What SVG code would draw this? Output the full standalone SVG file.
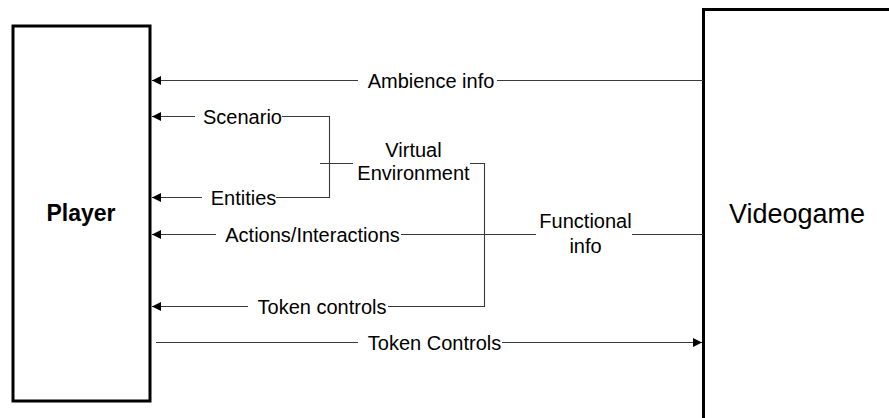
<svg xmlns="http://www.w3.org/2000/svg" width="889" height="418" viewBox="0 0 889 418">
  <style>
    .box { fill: #fff; stroke: #000; stroke-width: 3; }
    .ln { fill: none; stroke: #3a3a3a; stroke-width: 1.1; }
    .lbl { font-family: "Liberation Sans", Arial, sans-serif; font-size: 20px; fill: #000; text-anchor: middle; }
    .title { font-family: "Liberation Sans", Arial, sans-serif; fill: #000; text-anchor: middle; }
  </style>
  <defs>
    <marker id="arr" markerUnits="userSpaceOnUse" markerWidth="10" markerHeight="10" refX="9" refY="5" orient="auto-start-reverse">
      <path d="M0,0.5 L9,5 L0,9.5 Z" fill="#000"/>
    </marker>
  </defs>
  <rect width="889" height="418" fill="#fff"/>

  <g id="player">
    <rect class="box" x="13" y="26" width="137" height="375"/>
    <text class="title" x="81" y="221" font-size="23" font-weight="bold">Player</text>
  </g>

  <g id="videogame">
    <rect class="box" x="703.5" y="9.5" width="200" height="420"/>
    <text class="title" x="797" y="223" font-size="27">Videogame</text>
  </g>

  <g id="connectors">
    <!-- Ambience info -->
    <path class="ln" d="M358,80.5 L152,80.5" marker-end="url(#arr)"/>
    <path class="ln" d="M497,80.5 L703,80.5"/>
    <!-- Scenario / Entities bracket -->
    <path class="ln" d="M195,116.5 L152,116.5" marker-end="url(#arr)"/>
    <path class="ln" d="M282,116.5 L329.5,116.5 L329.5,197.5 L276,197.5"/>
    <path class="ln" d="M202,197.5 L152,197.5" marker-end="url(#arr)"/>
    <path class="ln" d="M320,163.5 L353,163.5"/>
    <!-- Virtual environment bracket to token controls -->
    <path class="ln" d="M470,163.5 L484.5,163.5 L484.5,306.5 L388,306.5"/>
    <path class="ln" d="M248,306.5 L152,306.5" marker-end="url(#arr)"/>
    <!-- Actions/Interactions, Functional info -->
    <path class="ln" d="M216,234.5 L152,234.5" marker-end="url(#arr)"/>
    <path class="ln" d="M401,234.5 L536,234.5"/>
    <path class="ln" d="M632,234.5 L703,234.5"/>
    <!-- Token Controls to videogame -->
    <path class="ln" d="M156,342.5 L358,342.5"/>
    <path class="ln" d="M502,342.5 L702,342.5" marker-end="url(#arr)"/>
  </g>

  <g id="labels">
    <text class="lbl" x="431" y="87.5">Ambience info</text>
    <text class="lbl" x="242.5" y="123.5">Scenario</text>
    <text class="lbl" x="243.5" y="204.5">Entities</text>
    <text class="lbl" x="413.5" y="157">Virtual</text>
    <text class="lbl" x="413.5" y="180">Environment</text>
    <text class="lbl" x="312.5" y="241.5">Actions/Interactions</text>
    <text class="lbl" x="585.5" y="228">Functional</text>
    <text class="lbl" x="585.5" y="252.5">info</text>
    <text class="lbl" x="322" y="313.5">Token controls</text>
    <text class="lbl" x="434.5" y="349.5">Token Controls</text>
  </g>
</svg>
